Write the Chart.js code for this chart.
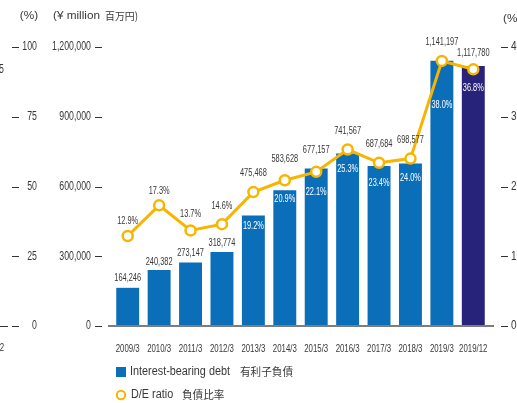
<!DOCTYPE html>
<html>
<head>
<meta charset="utf-8">
<script src="https://cdn.jsdelivr.net/npm/chart.js@4.4.1/dist/chart.umd.min.js"></script>
<style>
  html, body { margin: 0; padding: 0; background: #ffffff; }
  #wrap { position: relative; width: 517px; height: 403px; overflow: hidden; }
  canvas { display: block; }
</style>
</head>
<body>
<div id="wrap"><canvas id="c" width="517" height="403"></canvas></div>
<script>
// ---- data ----
const categories = ['2009/3', '2010/3', '2011/3', '2012/3', '2013/3', '2014/3', '2015/3', '2016/3', '2017/3', '2018/3', '2019/3', '2019/12'];
const debt = [164246, 240382, 273147, 318774, 475468, 583628, 677157, 741567, 687684, 698577, 1141197, 1117780];
const deRatio = [12.9, 17.3, 13.7, 14.6, 19.2, 20.9, 22.1, 25.3, 23.4, 24.0, 38.0, 36.8];
const debtTicks = [0, 300000, 600000, 900000, 1200000];
const pctTicks = [0, 25, 50, 75, 100];
const ratioTicks = [0, 10, 20, 30, 40];

// ---- layout / style (not data) ----
const valueLabelDy = [-10, -8, -10, -9, -43, -31, -19, -23, -22, -24, -19, -13];
const pctLabelDy = [-15, -15, -17, -18, 34, 19, 20, 19, 20, 19, 44, 19];
const pctInsideFrom = 4;
const BLUE = '#0b6eb8';
const NAVY = '#27227a';
const GOLD = '#f7b500';
const TEXT = '#383838';
const SANS = "'Liberation Sans', Arial, sans-serif";
const CJK = "'Noto Sans CJK JP', 'Noto Sans CJK SC', sans-serif";

function fitScale(ctx, font, sample, target) {
  ctx.save();
  ctx.font = font;
  const w = ctx.measureText(sample).width;
  ctx.restore();
  return w > 0 ? target / w : 1;
}
function txt(ctx, s, x, y, font, color, align, sx) {
  ctx.save();
  ctx.font = font;
  ctx.fillStyle = color;
  ctx.textAlign = align || 'center';
  ctx.textBaseline = 'middle';
  ctx.translate(x, y);
  ctx.scale(sx || 1, 1);
  ctx.fillText(s, 0, 0);
  ctx.restore();
}
function hline(ctx, x1, x2, y, color, lw) {
  ctx.save();
  ctx.strokeStyle = color;
  ctx.lineWidth = lw;
  ctx.beginPath();
  const yy = Math.round(y) + (lw % 2 ? 0.5 : 0);
  ctx.moveTo(x1, yy);
  ctx.lineTo(x2, yy);
  ctx.stroke();
  ctx.restore();
}

const decor = {
  id: 'decor',
  afterDatasetsDraw(chart) {
    const ctx = chart.ctx;
    const ca = chart.chartArea;
    const sx = chart.scales.x;
    const sDebt = chart.scales.yDebt, sPct = chart.scales.yPct, sRatio = chart.scales.yRatio;

    const fTick = '12px ' + SANS;
    const kTick = fitScale(ctx, fTick, '1,200,000', 39);
    const fX = '11px ' + SANS;
    const kX = fitScale(ctx, fX, '2009/3', 24);
    const fVal = '11.5px ' + SANS;
    const kVal = fitScale(ctx, fVal, '1,141,197', 33);
    const fPct = '11.5px ' + SANS;
    const kPct = fitScale(ctx, fPct, '12.9%', 21);
    const fLeg = '12.5px ' + SANS;
    const kLeg = fitScale(ctx, fLeg, 'Interest-bearing debt', 100);
    const fCjk = '11px ' + CJK;
    const kCjk = fitScale(ctx, fCjk, '有利子負債', 53);
    const fTitle = '11.5px ' + SANS;
    const kTitle = fitScale(ctx, fTitle, '(¥ million', 47);
    const fTitleCjk = '10.5px ' + CJK;
    const kTitleCjk = fitScale(ctx, fTitleCjk, '百万円)', 33);

    // baseline
    hline(ctx, ca.left - 4, ca.right + 5, sDebt.getPixelForValue(0), '#7d7d7d', 2);
    // tick dashes + tick labels
    pctTicks.forEach(v => {
      const y = sPct.getPixelForValue(v);
      hline(ctx, 12, 19, y, '#333', 1);
      txt(ctx, String(v), 37, y, fTick, TEXT, 'right', kTick);
    });
    debtTicks.forEach(v => {
      const y = sDebt.getPixelForValue(v);
      hline(ctx, 95, 102, y, '#333', 1);
      txt(ctx, v.toLocaleString('en-US'), 91, y, fTick, TEXT, 'right', kTick);
    });
    ratioTicks.forEach(v => {
      const y = sRatio.getPixelForValue(v);
      hline(ctx, 501, 508, y, '#333', 1);
      txt(ctx, String(v), 511, y, fTick, TEXT, 'left', kTick * 1.15);
    });
    hline(ctx, 0, 8, sPct.getPixelForValue(0), '#333', 1);
    // category labels
    categories.forEach((c, i) => {
      txt(ctx, c, sx.getPixelForValue(i), 349, fX, TEXT, 'center', kX);
    });
    // remnants of neighbouring panel
    txt(ctx, '25', 4, 70, fTick, TEXT, 'right', kTick);
    txt(ctx, '2019/12', 4, 348, fX, TEXT, 'right', kX);
    // axis titles
    txt(ctx, '(%)', 29, 16, fTitle, TEXT, 'center', kTitle);
    txt(ctx, '(¥ million', 53, 16, fTitle, TEXT, 'left', kTitle);
    txt(ctx, '百万円)', 105, 16, fTitleCjk, TEXT, 'left', kTitleCjk);
    txt(ctx, '(%', 503, 19, fTitle, TEXT, 'left', kTitle);
    // value labels
    const bars = chart.getDatasetMeta(0).data;
    const pts = chart.getDatasetMeta(1).data;
    bars.forEach((b, i) => {
      txt(ctx, debt[i].toLocaleString('en-US'), b.x, b.y + valueLabelDy[i], fVal, TEXT, 'center', kVal);
      const p = pts[i];
      const inside = i >= pctInsideFrom;
      txt(ctx, deRatio[i].toFixed(1) + '%', p.x, p.y + pctLabelDy[i], fPct, inside ? '#ffffff' : TEXT, 'center', kPct);
    });
    // legend
    ctx.save();
    ctx.fillStyle = BLUE;
    ctx.fillRect(116, 367, 10, 10);
    ctx.strokeStyle = GOLD;
    ctx.lineWidth = 2;
    ctx.beginPath();
    ctx.arc(121, 395, 4.2, 0, Math.PI * 2);
    ctx.stroke();
    ctx.restore();
    txt(ctx, 'Interest-bearing debt', 130, 372, fLeg, TEXT, 'left', kLeg);
    txt(ctx, '有利子負債', 240, 372, fCjk, TEXT, 'left', kCjk);
    txt(ctx, 'D/E ratio', 131, 395, fLeg, TEXT, 'left', kLeg);
    txt(ctx, '負債比率', 182, 395, fCjk, TEXT, 'left', kCjk);
  }
};

new Chart(document.getElementById('c'), {
  data: {
    labels: categories,
    datasets: [
      {
        type: 'bar',
        label: 'Interest-bearing debt 有利子負債',
        data: debt,
        yAxisID: 'yDebt',
        backgroundColor: debt.map((_, i) => i === debt.length - 1 ? NAVY : BLUE),
        barPercentage: 0.73,
        categoryPercentage: 1.0,
        order: 2
      },
      {
        type: 'line',
        label: 'D/E ratio 負債比率',
        data: deRatio,
        yAxisID: 'yRatio',
        borderColor: GOLD,
        borderWidth: 3,
        tension: 0,
        pointRadius: 5,
        pointBorderWidth: 2.5,
        pointBackgroundColor: '#ffffff',
        pointBorderColor: GOLD,
        order: 1
      }
    ]
  },
  options: {
    responsive: false,
    animation: false,
    devicePixelRatio: 1,
    layout: { padding: { top: 47, bottom: 47, left: 0, right: 0 } },
    plugins: { legend: { display: false }, tooltip: { enabled: false } },
    scales: {
      x: {
        type: 'category',
        offset: true,
        grid: { display: false },
        border: { display: false },
        ticks: { display: false },
        afterFit(s) { s.height = 30; }
      },
      yPct: {
        type: 'linear',
        position: 'left',
        weight: 2,
        min: 0, max: 100,
        afterBuildTicks(s) { s.ticks = pctTicks.map(v => ({ value: v })); },
        grid: { display: false },
        border: { display: false },
        ticks: { display: false },
        afterFit(s) { s.width = 40; }
      },
      yDebt: {
        type: 'linear',
        position: 'left',
        weight: 1,
        min: 0, max: 1200000,
        afterBuildTicks(s) { s.ticks = debtTicks.map(v => ({ value: v })); },
        grid: { display: false },
        border: { display: false },
        ticks: { display: false },
        afterFit(s) { s.width = 72; }
      },
      yRatio: {
        type: 'linear',
        position: 'right',
        min: 0, max: 40,
        afterBuildTicks(s) { s.ticks = ratioTicks.map(v => ({ value: v })); },
        grid: { display: false },
        border: { display: false },
        ticks: { display: false },
        afterFit(s) { s.width = 28; }
      }
    }
  },
  plugins: [decor]
});
</script>
</body>
</html>
